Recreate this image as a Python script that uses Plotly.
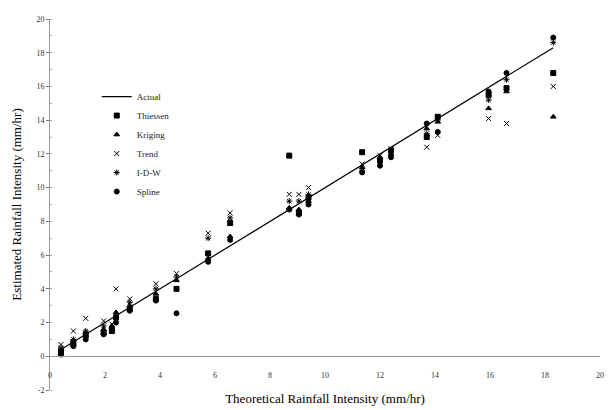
import plotly.graph_objects as go

theoretical = [0.4, 0.85, 1.3, 1.95, 2.25, 2.4, 2.9, 3.85, 4.6, 5.75, 6.55,
               8.7, 9.05, 9.4, 11.35, 12.0, 12.4, 13.7, 14.1, 15.95, 16.6, 18.3]
thiessen = [0.3, 0.8, 1.3, 1.4, 1.5, 2.3, 2.8, 3.4, 4.0, 6.1, 7.9,
            11.9, 8.5, 9.4, 12.1, 11.6, 12.2, 13.0, 14.2, 15.5, 15.9, 16.8]
kriging = [0.2, 0.7, 1.2, 1.6, 1.8, 2.6, 3.0, 3.7, 4.5, 5.8, 7.1,
           8.8, 8.7, 9.2, 11.2, 11.8, 12.0, 13.5, 13.9, 14.7, 15.7, 14.2]
trend = [0.7, 1.5, 2.25, 2.1, 1.9, 4.0, 3.4, 4.3, 4.9, 7.3, 8.5,
         9.6, 9.6, 10.0, 11.4, 11.9, 12.3, 12.4, 13.1, 14.1, 13.8, 16.0]
idw = [0.5, 1.0, 1.5, 1.8, 1.6, 2.4, 3.2, 4.0, 4.7, 7.0, 8.2,
       9.2, 9.2, 9.6, 11.0, 11.5, 12.1, 13.2, 14.0, 15.2, 16.4, 18.6]
spline = [0.1, 0.6, 1.0, 1.3, 1.7, 2.0, 2.7, 3.3, 2.55, 5.6, 6.9,
          8.7, 8.4, 9.0, 10.9, 11.3, 11.8, 13.8, 13.3, 15.7, 16.8, 18.9]

x_ticks = list(range(0, 21, 2))
y_ticks = list(range(-2, 21, 2))

SERIF = "Liberation Serif, Times New Roman, serif"

fig = go.Figure()
fig.add_trace(go.Scatter(x=[theoretical[0], theoretical[-1]],
                         y=[theoretical[0], theoretical[-1]],
                         mode="lines", name="Actual",
                         line=dict(color="black", width=1.2)))
series = [
    ("Thiessen", thiessen, "square", 5),
    ("Kriging", kriging, "triangle-up", 5),
    ("Trend", trend, "x-thin-open", 5),
    ("I-D-W", idw, "asterisk-open", 5),
    ("Spline", spline, "circle", 5),
]
for name, vals, sym, sz in series:
    fig.add_trace(go.Scatter(x=theoretical, y=vals, mode="markers", name=name,
                             marker=dict(symbol=sym, size=sz, color="black",
                                         line=dict(color="black", width=1))))

fig.update_layout(
    width=605, height=402,
    margin=dict(l=42, r=13, t=11, b=20, autoexpand=False),
    paper_bgcolor="white", plot_bgcolor="white",
    font=dict(family=SERIF, color="black"),
    showlegend=True,
    legend=dict(x=0.085, y=0.83, xanchor="left", yanchor="top",
                font=dict(family=SERIF, size=9, color="#222"),
                itemwidth=30, tracegroupgap=0,
                bgcolor="rgba(0,0,0,0)"),
    xaxis=dict(range=[0, 20], tickvals=x_ticks, ticktext=[str(v) for v in x_ticks],
               anchor="free", position=2 / 22, showgrid=False, zeroline=False,
               showline=True, linecolor="#9a9a9a", linewidth=1,
               ticks="", ticklabelstandoff=11, automargin=False,
               tickfont=dict(family=SERIF, size=8, color="#333"),
               title=dict(text="Theoretical Rainfall Intensity (mm/hr)",
                          font=dict(family=SERIF, size=13), standoff=15)),
    yaxis=dict(range=[-2, 20], tickvals=y_ticks, ticktext=[str(v) for v in y_ticks],
               showgrid=False, zeroline=False, showline=True, automargin=False,
               linecolor="#9a9a9a", linewidth=1,
               ticks="outside", ticklen=3, tickcolor="#777",
               minor=dict(dtick=1, ticks="inside", ticklen=2, tickcolor="#aaa"),
               tickfont=dict(family=SERIF, size=8, color="#333"),
               title=dict(text="Estimated Rainfall Intensity (mm/hr)",
                          font=dict(family=SERIF, size=13), standoff=11)),
)

fig.write_html("out.html")
